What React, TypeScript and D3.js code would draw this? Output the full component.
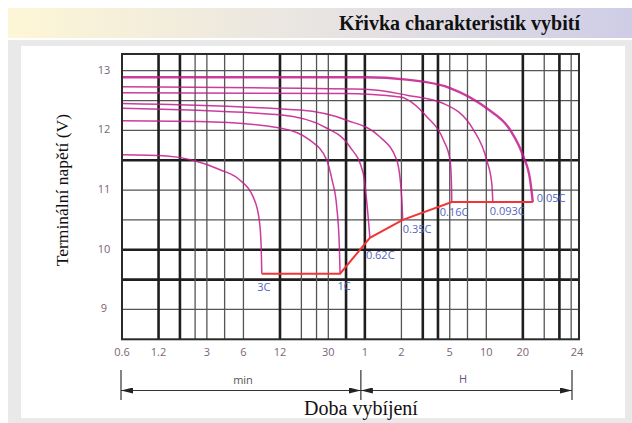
import React from 'react';
import * as d3 from 'd3';

// discharge curves: [minutes, volts]
const rateNames = ['3C', '1C', '0.62C', '0.35C', '0.16C', '0.093C', '0.05C'];
const curve3C = [[0.6, 11.59], [1.4, 11.57], [2.3, 11.5], [3.85, 11.34], [5.6, 11.17], [7.2, 10.89], [8.1, 10.5], [8.4, 10.05], [8.5, 9.6]];
const curve1C = [[0.6, 12.16], [2.6, 12.15], [12, 12.04], [21, 11.84], [29, 11.51], [32.2, 11.17], [35.2, 10.72], [37, 10.05], [37.5, 9.6]];
const curve062C = [[0.6, 12.37], [12, 12.26], [29, 12.04], [45, 11.73], [58, 11.29], [62, 10.83], [66, 10.2]];
const curve035C = [[0.6, 12.45], [17.5, 12.34], [42.6, 12.17], [80, 11.89], [110, 11.5], [121, 10.83], [123, 10.49]];
const curve016C = [[0.6, 12.63], [40, 12.62], [117, 12.56], [194, 12.23], [266, 11.84], [302, 11.5], [310, 11.1], [312, 10.8]];
const curve0093C = [[0.6, 12.73], [60, 12.69], [133, 12.59], [266, 12.45], [470, 12.01], [605, 11.5], [666, 11.11], [679, 10.8]];
const curve005C = [[0.6, 12.89], [60, 12.89], [133, 12.85], [302, 12.71], [605, 12.37], [942, 12.01], [1213, 11.56], [1377, 11.17], [1422, 10.95], [1449, 10.8]];
const curves = [curve3C, curve1C, curve062C, curve035C, curve016C, curve0093C, curve005C];

// end-voltage line
const cutoffLine = [[8.5, 9.6], [37.5, 9.6], [66, 10.2], [123, 10.5], [312, 10.8], [1449, 10.8]];

const yTicks = [9, 10, 11, 12, 13];
const xTickMinutes = [0.6, 1.2, 3, 6, 12, 30, 60, 120, 300, 600, 1200];
const xTickLabels = ['0.6', '1.2', '3', '6', '12', '30', '1', '2', '5', '10', '20'];
const lastTickLabel = '24';

// label offsets from curve end (dx, dy, anchor)
const labelOffsets = [[2, 14, 'middle'], [4, 13, 'middle'], [-4, 18, 'start'], [0, 10, 'start'], [-12, 11, 'start'], [-3, 10, 'start'], [4, -3, 'start']];

const W = 632, H = 423;
const vTop = 13.28;

export default function App() {
  const x = d3.scaleLog().domain([0.6, 3480]).range([122, 579]);
  const y = d3.scaleLinear().domain([8.5, 13]).range([339.3, 70.7]);
  const [x0, x1] = x.range();
  const yT = y(vTop), yB = y(8.5);

  // grid: log grid at 1,2,3,4,5,7 per decade
  const gridV: number[] = [];
  for (let k = 0; k < 4; k++) {
    for (const m of [1, 2, 3, 4, 5, 7]) {
      const v = 0.6 * m * Math.pow(10, k);
      if (v > 0.6 && v < 3480) gridV.push(v);
    }
  }
  const thickV = [1.2, 1.8, 12, 42, 60, 180, 240, 1200, 2400];
  const gridH = [9, 9.5, 10, 10.5, 11, 11.5, 12, 12.5, 13];
  const thickH = [9.5, 10, 11.5];

  const line = d3.line<number[]>().x(d => x(d[0])).y(d => y(d[1])).curve(d3.curveMonotoneX);
  const straight = d3.line<number[]>().x(d => x(d[0])).y(d => y(d[1]));

  const tickFont = "'Open Sans', 'DejaVu Sans', sans-serif";
  const serif = "'Liberation Serif', 'DejaVu Serif', serif";
  const midX = x(60) - 4;
  const endX = x1 - 7;

  return (
    <svg width={W} height={H} style={{ position: 'absolute', left: 0, top: 0, background: '#fff' }}>
      <defs>
        <linearGradient id="band" x1="0" x2="1" y1="0" y2="0">
          <stop offset="0" stopColor="#fdf6d6" />
          <stop offset="0.5" stopColor="#e8e4e2" />
          <stop offset="1" stopColor="#cfcde6" />
        </linearGradient>
        <marker id="arr" viewBox="0 0 12 6" refX="12" refY="3" markerWidth="12" markerHeight="6" markerUnits="userSpaceOnUse" orient="auto-start-reverse">
          <path d="M0,0 L12,3 L0,6 Z" fill="#222" />
        </marker>
      </defs>
      <rect x={8} y={8} width={624} height={30} fill="url(#band)" />
      <text x={580} y={30} textAnchor="end" fontFamily={serif} fontWeight="bold" fontSize={20} fill="#111">Křivka charakteristik vybití</text>
      <rect x={8} y={40} width={624} height={383} fill="#e9e9e9" />
      <rect x={21} y={46} width={604} height={372} fill="#fff" />

      {gridH.map(v => (
        <line key={'h' + v} x1={x0} x2={x1} y1={y(v)} y2={y(v)}
          stroke={thickH.includes(v) ? '#1e1e1e' : '#555'} strokeWidth={thickH.includes(v) ? 2.6 : 1.3} />
      ))}
      {gridV.map(v => {
        const thick = thickV.some(t => Math.abs(t - v) < 1e-6);
        return (
          <line key={'v' + v} x1={x(v)} x2={x(v)} y1={yT} y2={yB}
            stroke={thick ? '#1e1e1e' : '#555'} strokeWidth={thick ? 2.6 : 1.3} />
        );
      })}

      {curves.map((c, i) => (
        <path key={rateNames[i]} d={line(c) || ''} fill="none" stroke="#c21a8c"
          strokeWidth={i === 6 ? 2.4 : 1.5} strokeOpacity={0.85} />
      ))}
      <path d={straight(cutoffLine) || ''} fill="none" stroke="#f23434" strokeWidth={2} />

      {curves.map((c, i) => {
        const end = c[c.length - 1];
        const [dx, dy, anchor] = labelOffsets[i];
        return (
          <text key={'l' + i} x={x(end[0]) + (dx as number)} y={y(end[1]) + (dy as number)}
            textAnchor={anchor as string} dominantBaseline="middle" fontFamily={tickFont} fontSize={11} fill="#5565c0">
            {rateNames[i]}
          </text>
        );
      })}

      <rect x={x0} y={yT} width={x1 - x0} height={yB - yT} fill="none" stroke="#2a2a2a" strokeWidth={2} />

      {yTicks.map(v => (
        <text key={'yt' + v} x={104} y={y(v)} textAnchor="middle" dominantBaseline="middle"
          fontFamily={tickFont} fontSize={11} fill="#7a6478">{v}</text>
      ))}
      {xTickMinutes.map((v, i) => (
        <text key={'xt' + v} x={x(v)} y={353} textAnchor="middle" dominantBaseline="middle"
          fontFamily={tickFont} fontSize={11} fill="#7a6478">{xTickLabels[i]}</text>
      ))}
      <text x={x1 - 2} y={353} textAnchor="middle" dominantBaseline="middle"
        fontFamily={tickFont} fontSize={11} fill="#7a6478">{lastTickLabel}</text>

      {/* dimension lines */}
      {[x0 - 1, midX, endX].map((px, i) => (
        <line key={'d' + i} x1={px} x2={px} y1={370} y2={400} stroke="#333" strokeWidth={1.2} />
      ))}
      <line x1={x0 - 1} x2={midX} y1={390.5} y2={390.5} stroke="#333" strokeWidth={1}
        markerStart="url(#arr)" markerEnd="url(#arr)" />
      <line x1={midX} x2={endX} y1={390.5} y2={390.5} stroke="#333" strokeWidth={1}
        markerStart="url(#arr)" markerEnd="url(#arr)" />
      <text x={243} y={381} textAnchor="middle" dominantBaseline="middle" fontFamily={tickFont} fontSize={11} fill="#555">min</text>
      <text x={463} y={380} textAnchor="middle" dominantBaseline="middle" fontFamily={tickFont} fontSize={11} fill="#6a4f88">H</text>

      <text x={361} y={415} textAnchor="middle" fontFamily={serif} fontSize={20} fill="#111">Doba vybíjení</text>
      <text transform={`translate(68, ${(y(12) + y(10)) / 2}) rotate(-90)`} textAnchor="middle"
        fontFamily={serif} fontSize={17.5} fill="#111">Terminální napětí (V)</text>
    </svg>
  );
}
